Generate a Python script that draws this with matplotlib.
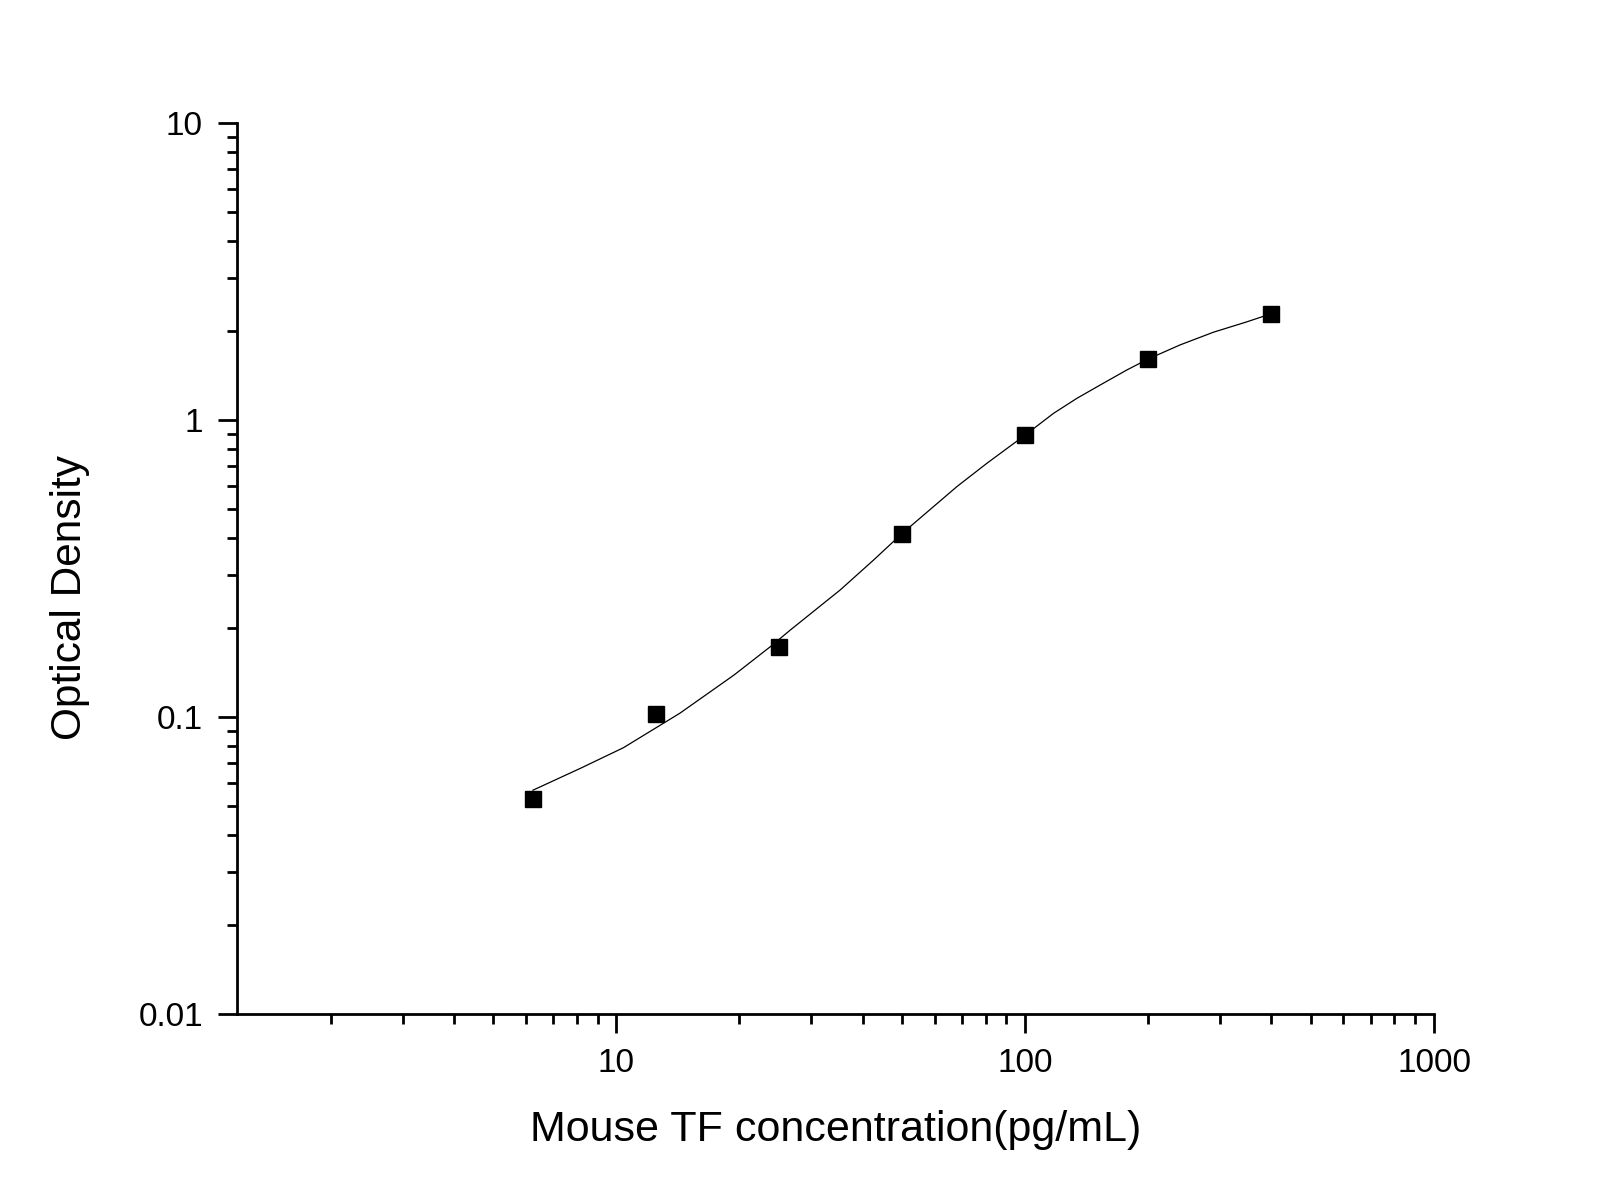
import numpy as np
import matplotlib
matplotlib.use('Agg')
import matplotlib.pyplot as plt
from matplotlib import ticker

plt.rcParams['font.family'] = ['Liberation Sans', 'DejaVu Sans']

# standards (pg/mL) and measured OD
conc = [6.25, 12.5, 25, 50, 100, 200, 400]
od = [0.053, 0.102, 0.172, 0.414, 0.891, 1.605, 2.28]

# fitted curve
fit_x = [6.25, 8.17, 10.4, 14.3, 19.4, 23.8, 26.6, 35.3, 42.6, 50, 68.1, 80.6,
         100, 117.3, 133.8, 152.6, 177.3, 200, 239.3, 288.7, 348.3, 400]
fit_y = [0.0567, 0.0672, 0.0788, 0.103, 0.1385, 0.1725, 0.196, 0.268, 0.338,
         0.415, 0.597, 0.715, 0.89, 1.053, 1.183, 1.312, 1.474, 1.605, 1.79,
         1.975, 2.14, 2.28]

y_ticks = [0.01, 0.1, 1, 10]
y_tick_labels = ['0.01', '0.1', '1', '10']
x_ticks = [10, 100, 1000]
x_tick_labels = ['10', '100', '1000']

fig = plt.figure(figsize=(16, 12), dpi=100)
ax = fig.add_axes([237 / 1600, 1 - 1014 / 1200, (1434 - 237) / 1600, (1014 - 123) / 1200])

ax.plot(fit_x, fit_y, color='black', linewidth=0.9)
ax.plot(conc, od, linestyle='none', marker='s', markersize=12, color='black')

ax.set_xscale('log')
ax.set_yscale('log')
ax.set_xlim(1.18, 1000)
ax.set_ylim(0.01, 10)

ax.spines['top'].set_visible(False)
ax.spines['right'].set_visible(False)
for s in ['left', 'bottom']:
    ax.spines[s].set_linewidth(2)

ax.xaxis.set_major_locator(ticker.FixedLocator(x_ticks))
ax.xaxis.set_major_formatter(ticker.FixedFormatter(x_tick_labels))
ax.yaxis.set_major_locator(ticker.FixedLocator(y_ticks))
ax.yaxis.set_major_formatter(ticker.FixedFormatter(y_tick_labels))
ax.xaxis.set_minor_locator(ticker.LogLocator(base=10, subs=np.arange(2, 10)))
ax.yaxis.set_minor_locator(ticker.LogLocator(base=10, subs=np.arange(2, 10)))
ax.xaxis.set_minor_formatter(ticker.NullFormatter())
ax.yaxis.set_minor_formatter(ticker.NullFormatter())

ax.tick_params(which='major', direction='out', length=13.5, width=2, labelsize=24, pad=11)
ax.tick_params(which='minor', direction='out', length=7, width=2)

fig.text((237 + 1434) / 2 / 1600, 1 - 1130 / 1200, 'Mouse TF concentration(pg/mL)',
         ha='center', va='center', fontsize=31)
fig.text(70 / 1600, 1 - 597 / 1200, 'Optical Density', rotation=90,
         ha='center', va='center', fontsize=30.5)

fig.savefig('out.png', dpi=100)
